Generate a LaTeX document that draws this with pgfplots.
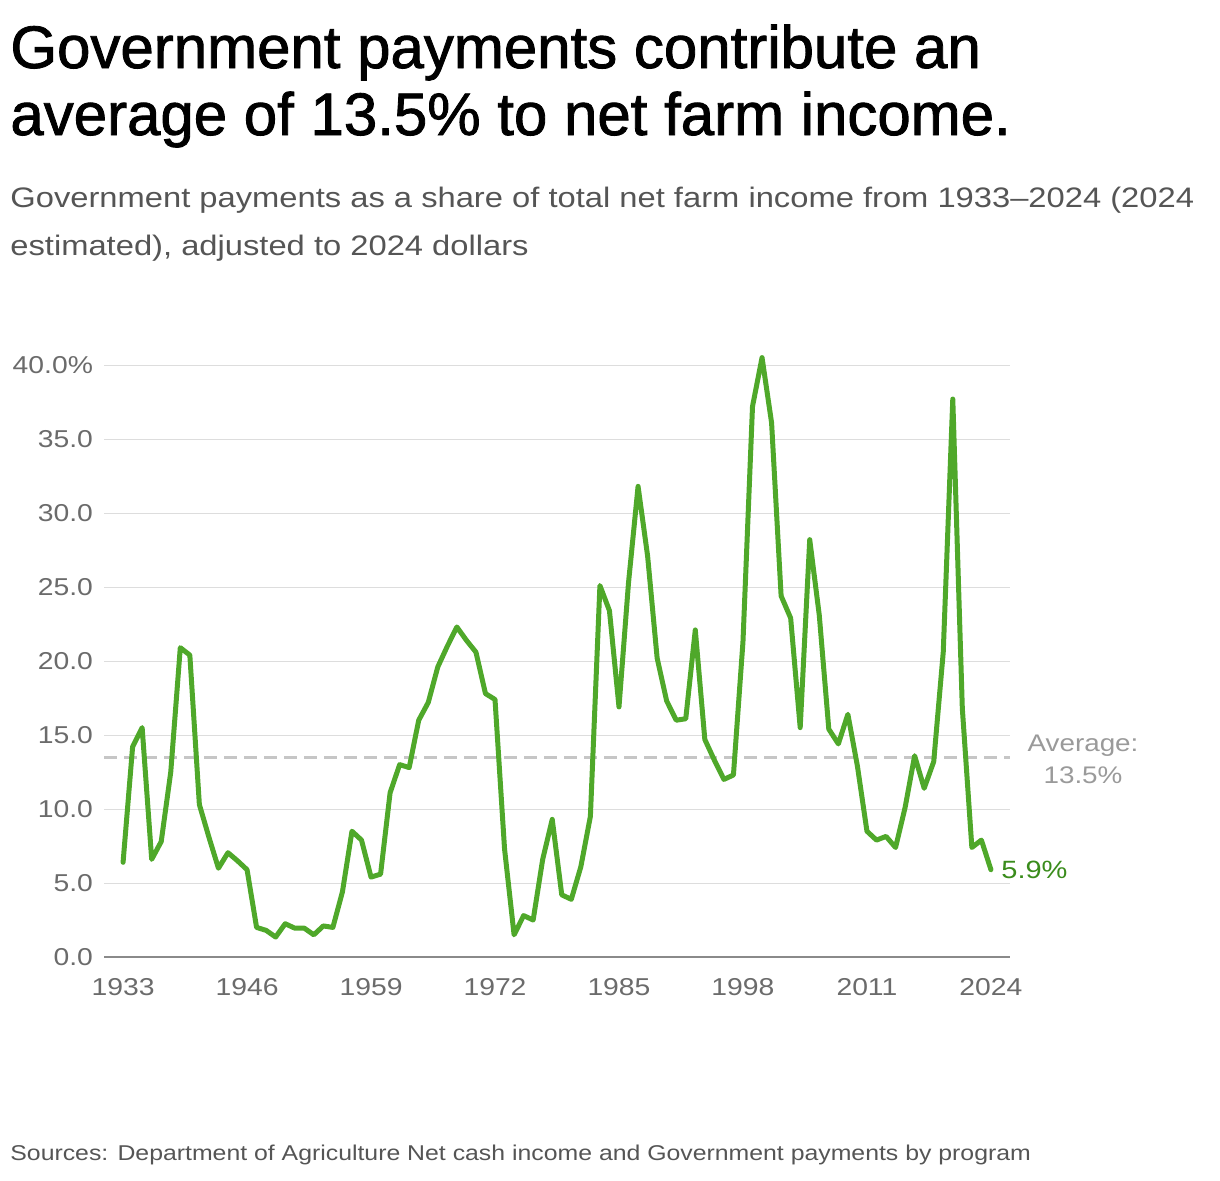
\documentclass[border=0pt]{standalone}
\usepackage{fontspec}
\setmainfont[FakeStretch=1.16]{Liberation Sans}
\newfontfamily\titlefont[FakeBold=1.4]{Liberation Sans}
\usepackage{pgfplots}
\pgfplotsset{compat=1.18}
\definecolor{linegreen}{HTML}{4FA82A}
\definecolor{labelgreen}{HTML}{3A8C1C}
\definecolor{gridgray}{HTML}{DDDDDD}
\definecolor{tickgray}{HTML}{6B6B6B}
\definecolor{avggray}{HTML}{C6C6C6}
\definecolor{avgtext}{HTML}{9A9A9A}
\definecolor{subgray}{HTML}{555555}
\definecolor{axisgray}{HTML}{8A8A8A}
\pgfplotstableread{
year val
1933 6.4
1934 14.2
1935 15.5
1936 6.6
1937 7.8
1938 12.5
1939 20.9
1940 20.4
1941 10.3
1942 8.1
1943 6.0
1944 7.05
1945 6.5
1946 5.9
1947 2.0
1948 1.8
1949 1.35
1950 2.25
1951 1.95
1952 1.95
1953 1.5
1954 2.1
1955 2.0
1956 4.4
1957 8.5
1958 7.9
1959 5.4
1960 5.6
1961 11.1
1962 13.0
1963 12.8
1964 16.0
1965 17.2
1966 19.6
1967 21.0
1968 22.3
1969 21.4
1970 20.6
1971 17.8
1972 17.4
1973 7.3
1974 1.5
1975 2.8
1976 2.5
1977 6.6
1978 9.3
1979 4.2
1980 3.9
1981 6.1
1982 9.5
1983 25.1
1984 23.4
1985 16.9
1986 25.3
1987 31.8
1988 27.1
1989 20.2
1990 17.3
1991 16.0
1992 16.1
1993 22.1
1994 14.7
1995 13.3
1996 12.0
1997 12.3
1998 21.3
1999 37.2
2000 40.5
2001 36.1
2002 24.4
2003 22.9
2004 15.5
2005 28.2
2006 23.1
2007 15.4
2008 14.4
2009 16.4
2010 12.9
2011 8.5
2012 7.9
2013 8.15
2014 7.4
2015 10.1
2016 13.6
2017 11.4
2018 13.2
2019 20.6
2020 37.7
2021 16.8
2022 7.4
2023 7.9
2024 5.9
}\datatable
\begin{document}
\begin{tikzpicture}
\path[use as bounding box] (0,0) rectangle (610pt,-590pt);
\node[anchor=base west, inner sep=0, font=\titlefont\fontsize{30}{37}\selectfont] at (5pt,-34pt) {Government payments contribute an};
\node[anchor=base west, inner sep=0, font=\titlefont\fontsize{30}{37}\selectfont] at (5pt,-67.5pt) {average of 13.5\% to net farm income.};
\node[anchor=base west, inner sep=0, text=subgray, font=\fontsize{14.1}{17}\selectfont] at (5pt,-103.5pt) {Government payments as a share of total net farm income from 1933–2024 (2024};
\node[anchor=base west, inner sep=0, text=subgray, font=\fontsize{14.1}{17}\selectfont] at (5pt,-127.5pt) {estimated), adjusted to 2024 dollars};
\node[anchor=base west, inner sep=0, text=subgray, font=\fontsize{10.7}{12}\selectfont] at (5pt,-580pt) {Sources: Department of Agriculture Net cash income and Government payments by program};
\begin{axis}[
  at={(52pt,-478.5pt)}, anchor=south west,
  scale only axis, width=453pt, height=296pt,
  xmin=1931, xmax=2026, ymin=0, ymax=40,
  clip=false,
  axis line style={draw=none},
  major tick length=0pt,
  ymajorgrids, grid style={gridgray, line width=0.5pt},
  xtick={1933,1946,1959,1972,1985,1998,2011,2024},
  xticklabels={1933,1946,1959,1972,1985,1998,2011,2024},
  ytick={0,5,10,15,20,25,30,35,40},
  yticklabels={0.0,5.0,10.0,15.0,20.0,25.0,30.0,35.0,40.0\%},
  ticklabel style={text=tickgray, font=\fontsize{12.2}{14}\selectfont},
  yticklabel style={anchor=east, xshift=-2pt},
  xticklabel style={anchor=north, yshift=-7pt},
]
\draw[axisgray, line width=1pt] (rel axis cs:0,0) -- (rel axis cs:1,0);
\addplot[avggray, line width=1.5pt, dash pattern=on 6.5pt off 3.5pt] coordinates {(1931,13.5) (2026,13.5)};
\addplot[linegreen, line width=2.5pt, line join=round, line cap=round] table[x=year, y=val] {\datatable};
\end{axis}
\node[anchor=base, inner sep=0, text=avgtext, font=\fontsize{12}{14}\selectfont] at (541.5pt,-375.5pt) {Average:};
\node[anchor=base, inner sep=0, text=avgtext, font=\fontsize{12}{14}\selectfont] at (541.5pt,-391.5pt) {13.5\%};
\node[anchor=base west, inner sep=0, text=labelgreen, font=\fontsize{12.5}{15}\selectfont] at (500.5pt,-439pt) {5.9\%};
\end{tikzpicture}
\end{document}
